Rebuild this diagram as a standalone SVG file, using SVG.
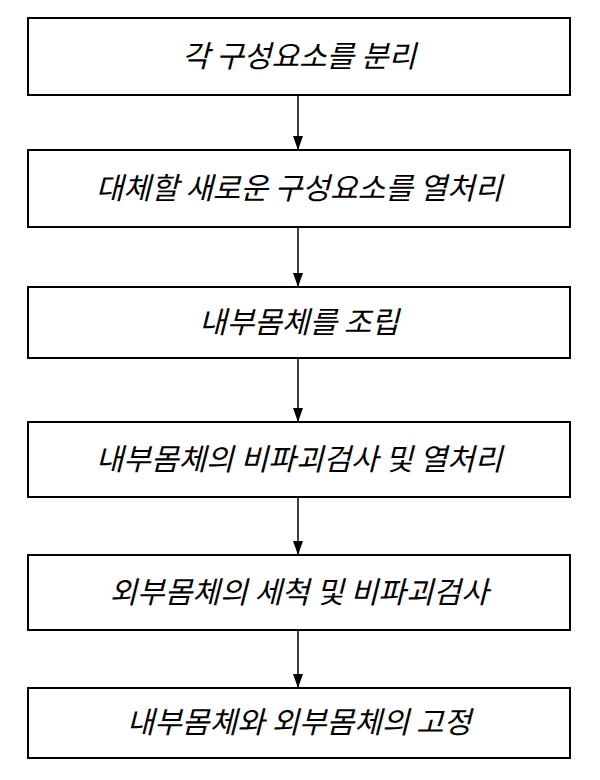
<svg xmlns="http://www.w3.org/2000/svg" width="600" height="780" viewBox="0 0 600 780">
<defs><marker id="a" markerWidth="14" markerHeight="10" refX="14" refY="5" orient="auto" markerUnits="userSpaceOnUse" viewBox="0 0 14 10"><path d="M0,0 L14,5 L0,10 Z" fill="#000"/></marker></defs>
<style>
.box{fill:#fff;stroke:#000;stroke-width:2}
text{font-family:"Noto Sans CJK KR",sans-serif;font-size:30px;font-style:italic;text-anchor:middle;fill:#000}
line{stroke:#000;stroke-width:1.5}
</style>
<rect width="600" height="780" fill="#fff"/>
<g id="connectors">
<line x1="298" y1="95" x2="298" y2="150" marker-end="url(#a)"/>
<line x1="298" y1="227" x2="298" y2="287" marker-end="url(#a)"/>
<line x1="298" y1="358" x2="298" y2="422" marker-end="url(#a)"/>
<line x1="298" y1="497" x2="298" y2="555" marker-end="url(#a)"/>
<line x1="298" y1="630" x2="298" y2="688" marker-end="url(#a)"/>
</g>
<g id="n1"><rect class="box" x="28" y="18" width="542" height="77"/><text x="299" y="67">각 구성요소를 분리</text></g>
<g id="n2"><rect class="box" x="28" y="150" width="542" height="77"/><text x="299" y="199">대체할 새로운 구성요소를 열처리</text></g>
<g id="n3"><rect class="box" x="28" y="287" width="542" height="71"/><text x="299" y="333">내부몸체를 조립</text></g>
<g id="n4"><rect class="box" x="28" y="422" width="542" height="75"/><text x="299" y="470">내부몸체의 비파괴검사 및 열처리</text></g>
<g id="n5"><rect class="box" x="28" y="555" width="542" height="75"/><text x="299" y="603">외부몸체의 세척 및 비파괴검사</text></g>
<g id="n6"><rect class="box" x="28" y="688" width="542" height="70"/><text x="299" y="733">내부몸체와 외부몸체의 고정</text></g>
</svg>
